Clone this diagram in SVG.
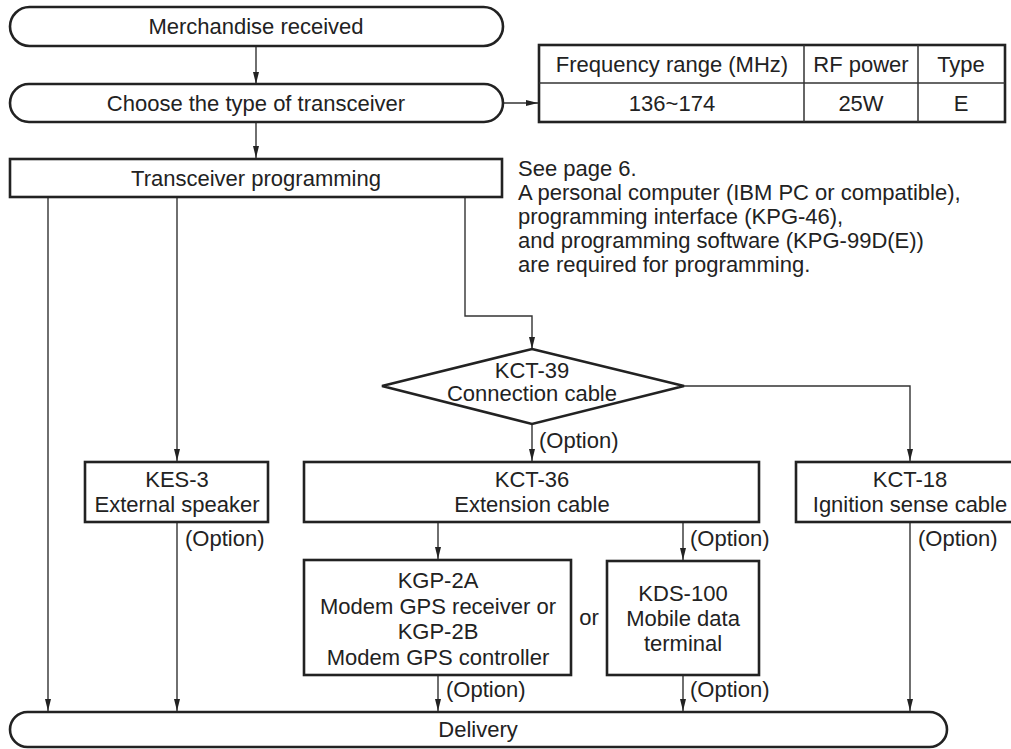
<svg xmlns="http://www.w3.org/2000/svg" width="1011" height="749" viewBox="0 0 1011 749">
<defs>
<marker id="ah" viewBox="0 0 12 6" refX="12" refY="3" markerWidth="12" markerHeight="6" orient="auto" markerUnits="userSpaceOnUse"><path d="M0,0 L12,3 L0,6 z" fill="#222"/></marker>
<style>
.box{fill:#fff;stroke:#222;stroke-width:2.6}
.ln{fill:none;stroke:#333;stroke-width:1.4}
.t{font-family:"Liberation Sans",Arial,sans-serif;font-size:22px;fill:#222;text-anchor:middle}
.tl{font-family:"Liberation Sans",Arial,sans-serif;font-size:22px;fill:#222;text-anchor:start}
</style>
</defs>
<rect width="1011" height="749" fill="#fff"/>
<g id="connectors">
<line class="ln" x1="256" y1="46" x2="256" y2="84" marker-end="url(#ah)"/>
<line class="ln" x1="503" y1="103" x2="538" y2="103" marker-end="url(#ah)"/>
<line class="ln" x1="256" y1="122" x2="256" y2="158" marker-end="url(#ah)"/>
<line class="ln" x1="48" y1="197" x2="48" y2="711" marker-end="url(#ah)"/>
<line class="ln" x1="177" y1="197" x2="177" y2="461" marker-end="url(#ah)"/>
<polyline class="ln" points="465,197 465,316 532,316 532,349" marker-end="url(#ah)"/>
<polyline class="ln" points="684,386 910,386 910,461" marker-end="url(#ah)"/>
<line class="ln" x1="532" y1="424" x2="532" y2="461" marker-end="url(#ah)"/>
<line class="ln" x1="177" y1="522" x2="177" y2="711" marker-end="url(#ah)"/>
<line class="ln" x1="438" y1="522" x2="438" y2="559" marker-end="url(#ah)"/>
<line class="ln" x1="683" y1="522" x2="683" y2="560" marker-end="url(#ah)"/>
<line class="ln" x1="438" y1="675" x2="438" y2="711" marker-end="url(#ah)"/>
<line class="ln" x1="683" y1="675" x2="683" y2="711" marker-end="url(#ah)"/>
<line class="ln" x1="910" y1="522" x2="910" y2="711" marker-end="url(#ah)"/>
<text class="tl" x="539" y="448">(Option)</text>
<text class="tl" x="185" y="546">(Option)</text>
<text class="tl" x="690" y="546">(Option)</text>
<text class="tl" x="918" y="546">(Option)</text>
<text class="tl" x="446" y="697">(Option)</text>
<text class="tl" x="690" y="697">(Option)</text>
</g>
<g id="merchandise">
<rect class="box" x="10" y="7" width="493" height="39" rx="19.5"/>
<text class="t" x="256" y="34">Merchandise received</text>
</g>
<g id="choose">
<rect class="box" x="10" y="84" width="493" height="38" rx="19"/>
<text class="t" x="256" y="111">Choose the type of transceiver</text>
</g>
<g id="table">
<rect class="box" x="539" y="45" width="466" height="77"/>
<line class="ln" x1="539" y1="83" x2="1005" y2="83" style="stroke-width:1.5"/>
<line class="ln" x1="804" y1="45" x2="804" y2="122" style="stroke-width:1.5"/>
<line class="ln" x1="918" y1="45" x2="918" y2="122" style="stroke-width:1.5"/>
<text class="t" x="672" y="72">Frequency range (MHz)</text>
<text class="t" x="861" y="72">RF power</text>
<text class="t" x="961" y="72">Type</text>
<text class="t" x="672" y="111">136~174</text>
<text class="t" x="861" y="111">25W</text>
<text class="t" x="961" y="111">E</text>
</g>
<g id="programming">
<rect class="box" x="10" y="159" width="492" height="38"/>
<text class="t" x="256" y="186">Transceiver programming</text>
</g>
<g id="note">
<text class="tl" x="518" y="176">See page 6.</text>
<text class="tl" x="518" y="200">A personal computer (IBM PC or compatible),</text>
<text class="tl" x="518" y="224">programming interface (KPG-46),</text>
<text class="tl" x="518" y="248">and programming software (KPG-99D(E))</text>
<text class="tl" x="518" y="272">are required for programming.</text>
</g>
<g id="kct39">
<polygon class="box" points="532,349 684,386 532,424 382,386"/>
<text class="t" x="532" y="378">KCT-39</text>
<text class="t" x="532" y="401">Connection cable</text>
</g>
<g id="kes3">
<rect class="box" x="85" y="462" width="183" height="60"/>
<text class="t" x="177" y="487">KES-3</text>
<text class="t" x="177" y="512">External speaker</text>
</g>
<g id="kct36">
<rect class="box" x="304" y="462" width="455" height="60"/>
<text class="t" x="532" y="487">KCT-36</text>
<text class="t" x="532" y="512">Extension cable</text>
</g>
<g id="kct18">
<rect class="box" x="796" y="462" width="230" height="60"/>
<text class="t" x="910" y="487">KCT-18</text>
<text class="t" x="910" y="512">Ignition sense cable</text>
</g>
<g id="kgp">
<rect class="box" x="304" y="560" width="267" height="115"/>
<text class="t" x="438" y="588">KGP-2A</text>
<text class="t" x="438" y="614">Modem GPS receiver or</text>
<text class="t" x="438" y="639">KGP-2B</text>
<text class="t" x="438" y="665">Modem GPS controller</text>
</g>
<text class="t" x="589" y="625">or</text>
<g id="kds100">
<rect class="box" x="607" y="561" width="152" height="114"/>
<text class="t" x="683" y="601">KDS-100</text>
<text class="t" x="683" y="626">Mobile data</text>
<text class="t" x="683" y="651">terminal</text>
</g>
<g id="delivery">
<rect class="box" x="10" y="712" width="937" height="35" rx="17.5"/>
<text class="t" x="478" y="737">Delivery</text>
</g>
</svg>
